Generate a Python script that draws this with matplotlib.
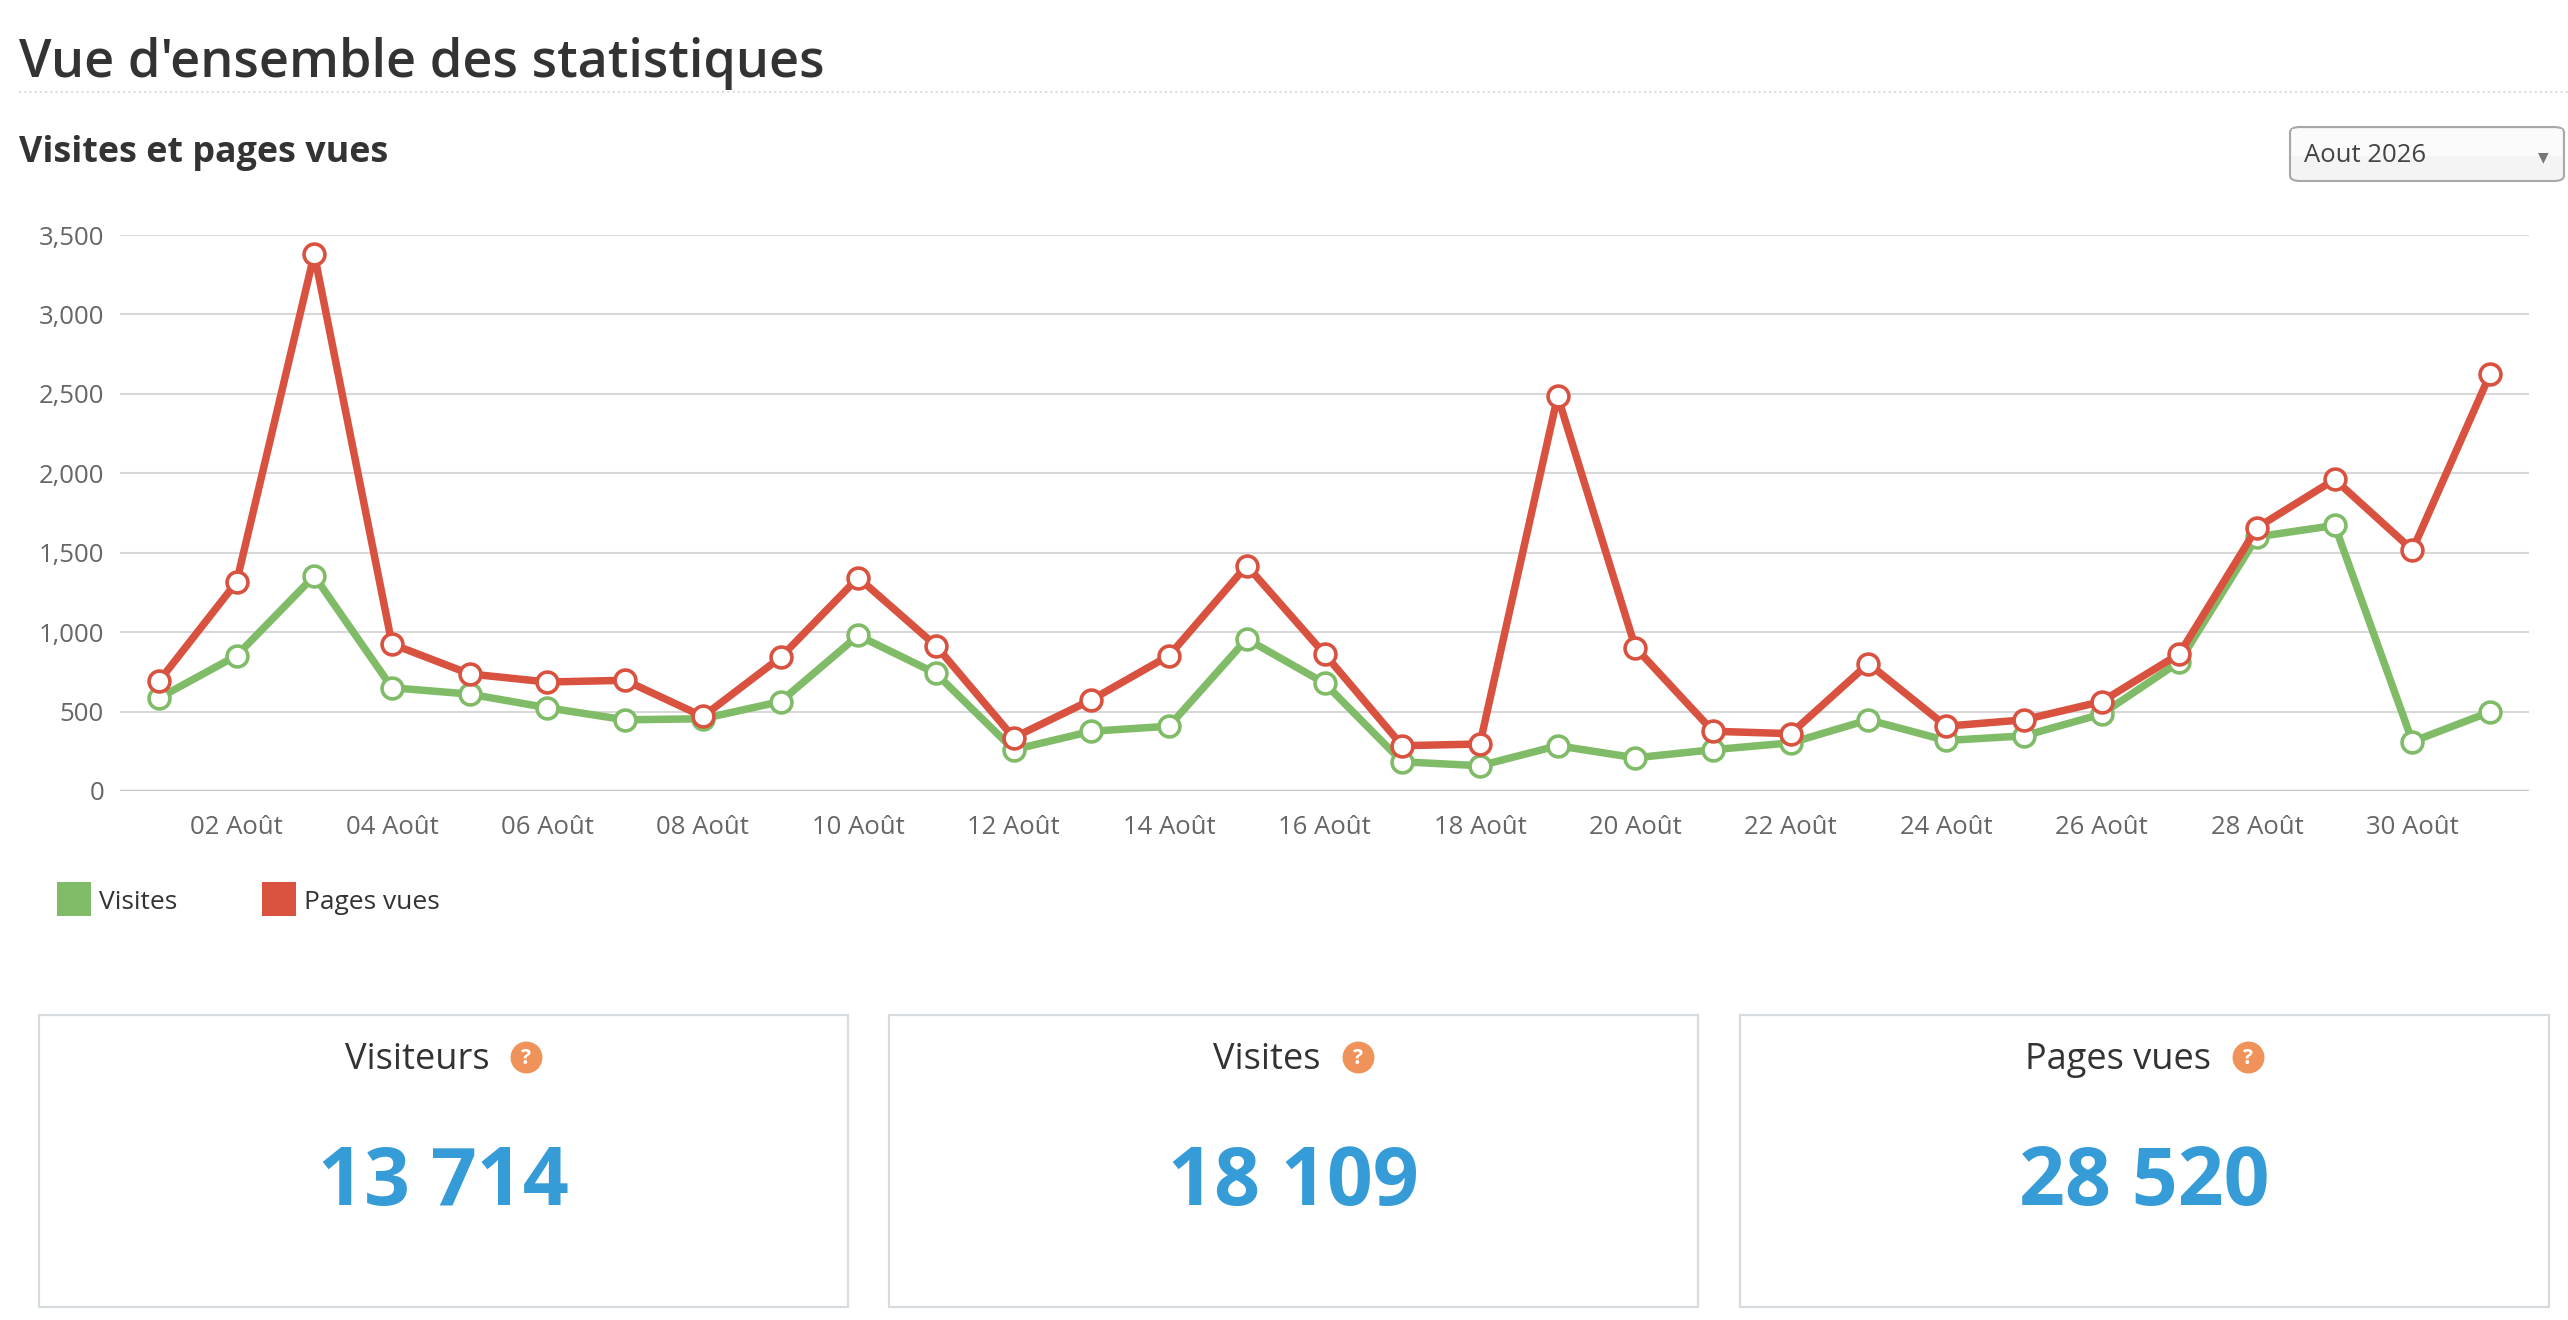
import matplotlib
matplotlib.use('Agg')
import matplotlib.pyplot as plt
from matplotlib.patches import Rectangle, FancyBboxPatch
from matplotlib.lines import Line2D

plt.rcParams['font.family'] = ['Open Sans', 'DejaVu Sans']

W, H = 2568, 1320

days = list(range(1, 32))
visites = [585, 852, 1354, 650, 610, 524, 448, 455, 563, 979, 740, 260, 376, 408, 957,
           679, 184, 159, 285, 209, 260, 303, 448, 318, 347, 484, 813, 1600, 1672, 311, 498]
pages_vues = [690, 1315, 3380, 925, 737, 686, 697, 469, 841, 1343, 914, 336, 574, 852, 1419,
              863, 285, 296, 2485, 903, 376, 361, 802, 408, 448, 563, 863, 1658, 1961, 1517, 2625]
tick_days = list(range(2, 31, 2))
tick_labels = [f"{d:02d} Août" for d in tick_days]
y_ticks = [0, 500, 1000, 1500, 2000, 2500, 3000, 3500]

box_titles = ['Visiteurs', 'Visites', 'Pages vues']
box_values = ['13 714', '18 109', '28 520']

GREEN = '#80bc68'
RED = '#d9513f'
BLUE = '#369cd8'
DARK = '#333333'


def fx(x):
    return x / W


def fy(y):
    return 1 - y / H


fig = plt.figure(figsize=(W / 100, H / 100), dpi=100)
fig.patch.set_facecolor('white')

# header
fig.text(fx(19), fy(77), "Vue d'ensemble des statistiques", fontsize=37.6,
         fontweight='semibold', color=DARK, va='baseline', ha='left')
fig.add_artist(Line2D([fx(19), 1], [fy(92), fy(92)], color='#dddddd', lw=1.5,
                      linestyle=(0, (1, 1.5))))
fig.text(fx(19), fy(162), "Visites et pages vues", fontsize=25.8,
         fontweight='bold', color=DARK, va='baseline', ha='left')

# month selector
sel = FancyBboxPatch((fx(2290), fy(181)), fx(2564) - fx(2290), fy(127) - fy(181),
                     boxstyle='round,pad=0,rounding_size=0.004',
                     transform=fig.transFigure, facecolor='#f4f4f4',
                     edgecolor='#a8a8a8', lw=1.5)
fig.add_artist(sel)
fig.add_artist(Rectangle((fx(2292), fy(156)), fx(2562) - fx(2292), fy(129) - fy(156),
                         transform=fig.transFigure, facecolor='#fbfbfb', edgecolor='none'))
fig.text(fx(2304), fy(155), "Aout 2026", fontsize=18.5, color='#444444',
         va='center', ha='left')
fig.text(fx(2543), fy(157), "▼", fontsize=10, color='#777777',
         va='center', ha='center', family=['DejaVu Sans'])

# chart
ax = fig.add_axes([fx(120), fy(791), fx(2529) - fx(120), fy(235) - fy(791)])
ax.plot(days, visites, color=GREEN, lw=5.4, marker='o', markersize=15,
        markerfacecolor='white', markeredgecolor=GREEN, markeredgewidth=2.6,
        solid_joinstyle='round', zorder=3, clip_on=False)
ax.plot(days, pages_vues, color=RED, lw=5.4, marker='o', markersize=15,
        markerfacecolor='white', markeredgecolor=RED, markeredgewidth=2.6,
        solid_joinstyle='round', zorder=4, clip_on=False)

ax.set_xlim(0.5, 31.5)
ax.set_ylim(0, 3500)
ax.set_yticks(y_ticks)
ax.set_yticklabels([f"{v:,}" for v in y_ticks])
ax.set_xticks(tick_days)
ax.set_xticklabels(tick_labels)
ax.tick_params(axis='both', length=0, labelsize=18.5, labelcolor='#666666')
ax.tick_params(axis='y', pad=11.5)
ax.tick_params(axis='x', pad=17.5)
for s in ax.spines.values():
    s.set_visible(False)
ax.grid(axis='y', color='#d8d8d8', lw=1.5)
ax.grid(axis='x', visible=False)
ax.axhline(0, color='#c8c8c8', lw=2.5, zorder=2)
ax.set_axisbelow(True)

# legend
for x0, color, label in [(57, GREEN, 'Visites'), (262, RED, 'Pages vues')]:
    fig.add_artist(Rectangle((fx(x0), fy(916)), fx(34), fy(882) - fy(916),
                             transform=fig.transFigure, facecolor=color, edgecolor='none'))
    fig.text(fx(x0 + 42), fy(909), label, fontsize=19, color=DARK, va='baseline', ha='left')

# summary boxes
boxes = [(39, 848), (889, 1698), (1740, 2549)]
renderer = fig.canvas.get_renderer()
for (x0, x1), title, value in zip(boxes, box_titles, box_values):
    fig.add_artist(Rectangle((fx(x0), fy(1307)), fx(x1 - x0), fy(1015) - fy(1307),
                             transform=fig.transFigure, facecolor='white',
                             edgecolor='#d6dbdf', lw=1.6))
    cx = (x0 + x1) / 2
    t = fig.text(fx(cx), fy(1069), title, fontsize=26, color=DARK, va='baseline', ha='center')
    tw = t.get_window_extent(renderer).width
    group = tw + 21 + 32
    t.set_x(fx(cx - group / 2 + tw / 2))
    icx = cx - group / 2 + tw + 21 + 16
    fig.add_artist(Line2D([fx(icx)], [fy(1057)], marker='o', markersize=23,
                          markerfacecolor='#f0935a', markeredgecolor='none',
                          transform=fig.transFigure))
    fig.text(fx(icx), fy(1058), '?', fontsize=15, fontweight='bold', color='white',
             va='center', ha='center')
    fig.text(fx(cx), fy(1205), value, fontsize=58, fontweight='bold', color=BLUE,
             va='baseline', ha='center')

fig.savefig('out.png', dpi=100, facecolor='white')
